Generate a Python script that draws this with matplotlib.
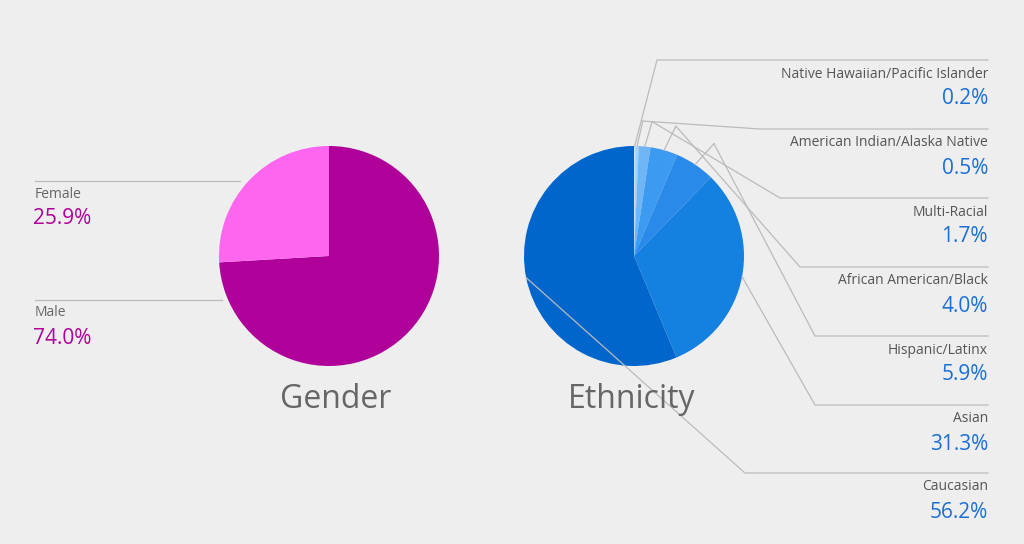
import matplotlib
matplotlib.use("Agg")
import matplotlib.pyplot as plt
import numpy as np

gender_labels = ["Male", "Female"]
gender_values = [74.0, 25.9]
gender_colors = ["#B0009A", "#FF66F0"]

eth_labels = ["Native Hawaiian/Pacific Islander", "American Indian/Alaska Native", "Multi-Racial",
              "African American/Black", "Hispanic/Latinx", "Asian", "Caucasian"]
eth_values = [0.2, 0.5, 1.7, 4.0, 5.9, 31.3, 56.2]
eth_colors = ["#C8E4FC", "#A6D2FA", "#70B6F7", "#3C9AF0", "#2A8AEA", "#1480E0", "#0066CC"]

BG = "#EEEEEE"
fig = plt.figure(figsize=(10.24, 5.44), dpi=100, facecolor=BG)
ax = fig.add_axes([0, 0, 1, 1])
ax.set_xlim(0, 1024); ax.set_ylim(0, 544); ax.set_aspect("equal"); ax.axis("off")
ax.set_facecolor(BG)
H = 544
font = "Open Sans"
lc = "#BBBBBB"

R = 110
gc = (329, H - 256)
ec = (634, H - 256)
ax.pie(gender_values, colors=gender_colors, startangle=90, counterclock=False,
       center=gc, radius=R, frame=True)
ax.pie(eth_values, colors=eth_colors, startangle=90, counterclock=False,
       center=ec, radius=R, frame=True)
ax.set_xlim(0, 1024); ax.set_ylim(0, 544); ax.axis("off")

# gender labels
for lab, val, ly, xend in [("Female", gender_values[1], 181, 240), ("Male", gender_values[0], 300, 222)]:
    ax.plot([35, xend], [H - ly, H - ly], color=lc, lw=0.9)
    ax.text(35, H - ly - 13, lab, fontsize=10, color="#666666", family=font, va="center", ha="left")
    ax.text(33, H - ly - 38, f"{val:.1f}%", fontsize=15, color="#B0009A", family=font, va="center", ha="left")

# ethnicity labels with leader lines
ys = [60, 129, 198, 267, 336, 405, 473]
elbow_x = [657, 760, 780, 800, 815, 815, 745]
cum = 0
total = sum(eth_values)
for i, (lab, val) in enumerate(zip(eth_labels, eth_values)):
    mid = 90 - 360 * (cum + val / 2) / total
    cum += val
    a = np.deg2rad(mid)
    sx, sy = ec[0] + R * np.cos(a), ec[1] + R * np.sin(a)
    if i in (1, 2, 3, 4):
        ex, ey = sx + 25 * np.cos(a) + 5, sy + 25 * np.sin(a)
        ax.plot([sx, ex], [sy, ey], color=lc, lw=0.9)
        sx, sy = ex, ey
    ly = H - ys[i]
    ax.plot([sx, elbow_x[i], 988], [sy, ly, ly], color=lc, lw=0.9)
    ax.text(988, ly - 14, lab, fontsize=10, color="#555555", family=font, va="center", ha="right")
    ax.text(988, ly - 39, f"{val:.1f}%", fontsize=15, color="#1A6FD6", family=font, va="center", ha="right")

ax.text(336, H - 400, "Gender", fontsize=23, color="#666666", family=font, ha="center", va="center")
ax.text(632, H - 400, "Ethnicity", fontsize=23, color="#666666", family=font, ha="center", va="center")

fig.savefig("out.png", dpi=100, facecolor=BG)
